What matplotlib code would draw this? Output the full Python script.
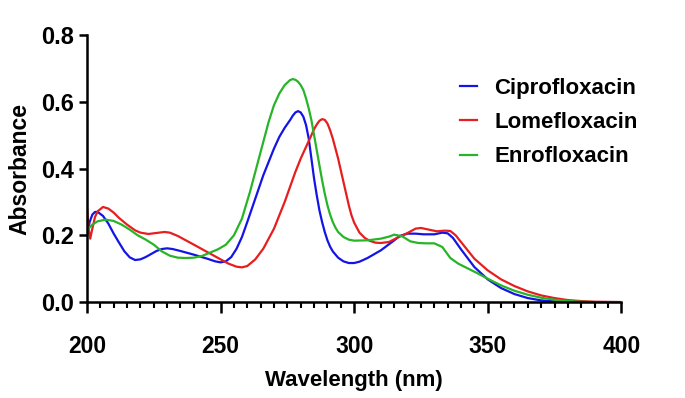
import matplotlib
matplotlib.use('Agg')
import matplotlib.pyplot as plt
from matplotlib.ticker import MultipleLocator

# Ciprofloxacin
cipro_wl = [200, 201, 202, 203, 204, 206, 208, 210, 212, 214, 216, 218, 220, 222, 224,
            226, 228, 230, 232, 235, 240, 245, 248, 250, 252, 254, 256, 258, 260, 263,
            266, 268, 270, 272, 274, 276, 277, 278, 279, 280, 281, 282, 283, 284, 285,
            286, 287, 288, 289, 290, 291, 292, 294, 296, 298, 300, 302, 305, 310, 315,
            317, 320, 323, 326, 330, 333, 335, 337, 340, 345, 350, 355, 360, 365, 370,
            375, 380, 390, 400]
cipro_abs = [0.20, 0.24, 0.262, 0.27, 0.27, 0.258, 0.235, 0.205, 0.178, 0.152, 0.134, 0.126, 0.128, 0.135, 0.144,
             0.153, 0.159, 0.161, 0.159, 0.153, 0.142, 0.130, 0.122, 0.119, 0.122, 0.135, 0.16, 0.195, 0.24, 0.31,
             0.38, 0.42, 0.46, 0.495, 0.522, 0.545, 0.558, 0.568, 0.572, 0.568, 0.555, 0.53, 0.49, 0.43, 0.37,
             0.32, 0.275, 0.24, 0.21, 0.185, 0.166, 0.152, 0.133, 0.122, 0.117, 0.117, 0.121, 0.132, 0.155, 0.185,
             0.198, 0.205, 0.205, 0.203, 0.203, 0.208, 0.206, 0.192, 0.158, 0.105, 0.068, 0.042, 0.024, 0.012, 0.005,
             0.002, 0.0, 0.0, 0.0]

# Lomefloxacin
lome_wl = [200, 200.6, 201.2, 202, 203, 204, 206, 208, 210, 212, 215, 218, 220, 223, 226,
           229, 231, 234, 237, 240, 245, 250, 253, 256, 258, 260, 263, 266, 270, 274,
           278, 280, 282, 284, 285, 286, 287, 288, 289, 290, 291, 292, 293, 294, 295,
           296, 297, 298, 299, 300, 302, 304, 306, 308, 310, 313, 316, 320, 323, 325,
           328, 331, 334, 336, 338, 341, 345, 350, 355, 360, 365, 370, 375, 380, 385,
           390, 400]
lome_abs = [0.28, 0.22, 0.19, 0.22, 0.255, 0.272, 0.285, 0.28, 0.268, 0.252, 0.232, 0.215, 0.208, 0.204, 0.207,
            0.21, 0.208, 0.198, 0.185, 0.172, 0.150, 0.128, 0.115, 0.106, 0.104, 0.108, 0.128, 0.16, 0.22, 0.30,
            0.39, 0.43, 0.465, 0.50, 0.518, 0.532, 0.543, 0.548, 0.546, 0.535, 0.515, 0.49, 0.46, 0.43, 0.395,
            0.36, 0.325, 0.29, 0.26, 0.238, 0.208, 0.192, 0.183, 0.178, 0.177, 0.18, 0.192, 0.207, 0.22, 0.222,
            0.217, 0.212, 0.214, 0.213, 0.20, 0.17, 0.13, 0.095, 0.068, 0.048, 0.032, 0.02, 0.012, 0.006, 0.003,
            0.001, 0.0]

# Enrofloxacin
enro_wl = [200, 202, 204, 207, 210, 213, 216, 219, 222, 225, 228, 231, 234, 237, 240,
           243, 246, 249, 252, 255, 258, 261, 264, 266, 268, 270, 272, 274, 276, 277,
           278, 279, 280, 281, 282, 283, 284, 285, 286, 287, 288, 289, 290, 291, 292,
           293, 294, 296, 298, 300, 305, 310, 313, 315, 318, 321, 324, 327, 330, 333,
           336, 339, 342, 346, 350, 355, 360, 365, 370, 375, 380, 385, 390, 400]
enro_abs = [0.215, 0.232, 0.242, 0.247, 0.243, 0.232, 0.217, 0.200, 0.187, 0.172, 0.152, 0.139, 0.133, 0.132, 0.133,
            0.138, 0.148, 0.158, 0.172, 0.20, 0.25, 0.33, 0.42, 0.48, 0.54, 0.59, 0.625, 0.65, 0.665, 0.668,
            0.666, 0.66, 0.65, 0.635, 0.61, 0.58, 0.545, 0.50, 0.455, 0.41, 0.365, 0.325, 0.29, 0.262, 0.24,
            0.223, 0.21, 0.195, 0.187, 0.184, 0.185, 0.19, 0.196, 0.202, 0.197, 0.182, 0.177, 0.176, 0.176, 0.165,
            0.132, 0.115, 0.103, 0.087, 0.07, 0.05, 0.034, 0.022, 0.013, 0.007, 0.003, 0.001, 0.0, 0.0]

labels = ['Ciprofloxacin', 'Lomefloxacin', 'Enrofloxacin']
colors = ['#1414e6', '#e61e1e', '#28b428']

plt.rcParams['font.family'] = ['Liberation Sans', 'DejaVu Sans']
plt.rcParams['font.weight'] = 'bold'

fig = plt.figure(figsize=(6.85, 3.98), dpi=100)
ax = fig.add_axes([0.127, 0.241, 0.78, 0.671])

series = [(cipro_wl, cipro_abs), (lome_wl, lome_abs), (enro_wl, enro_abs)]
for (wl, ab), lab, col in zip(series, labels, colors):
    ax.plot(wl, ab, color=col, linewidth=1.6, label=lab, solid_joinstyle='round')

ax.set_xlim(200, 400)
ax.set_ylim(0, 0.8)
ax.xaxis.set_major_locator(MultipleLocator(50))
ax.xaxis.set_minor_locator(MultipleLocator(5))
ax.yaxis.set_major_locator(MultipleLocator(0.2))
ax.yaxis.set_major_formatter(plt.FuncFormatter(lambda v, p: f'{v:.1f}'))

for s in ['top', 'right']:
    ax.spines[s].set_visible(False)
for s in ['left', 'bottom']:
    ax.spines[s].set_linewidth(1.8)

ax.tick_params(axis='x', which='major', direction='out', length=8, width=1.8, pad=16, labelsize=16.5)
ax.tick_params(axis='x', which='minor', direction='out', length=4, width=1.5)
ax.tick_params(axis='y', which='major', direction='out', length=6, width=1.8, pad=3, labelsize=17)

ax.set_xlabel('Wavelength (nm)', fontsize=16, fontweight='bold', labelpad=8)
ax.set_ylabel('Absorbance', fontsize=16.5, fontweight='bold', labelpad=7)

leg = ax.legend(loc='upper left', bbox_to_anchor=(0.66, 0.915), frameon=False,
                fontsize=16, handlelength=0.8, handletextpad=0.75, labelspacing=0.6)
for t in leg.get_texts():
    t.set_fontweight('bold')

fig.savefig('out.png', dpi=100)
